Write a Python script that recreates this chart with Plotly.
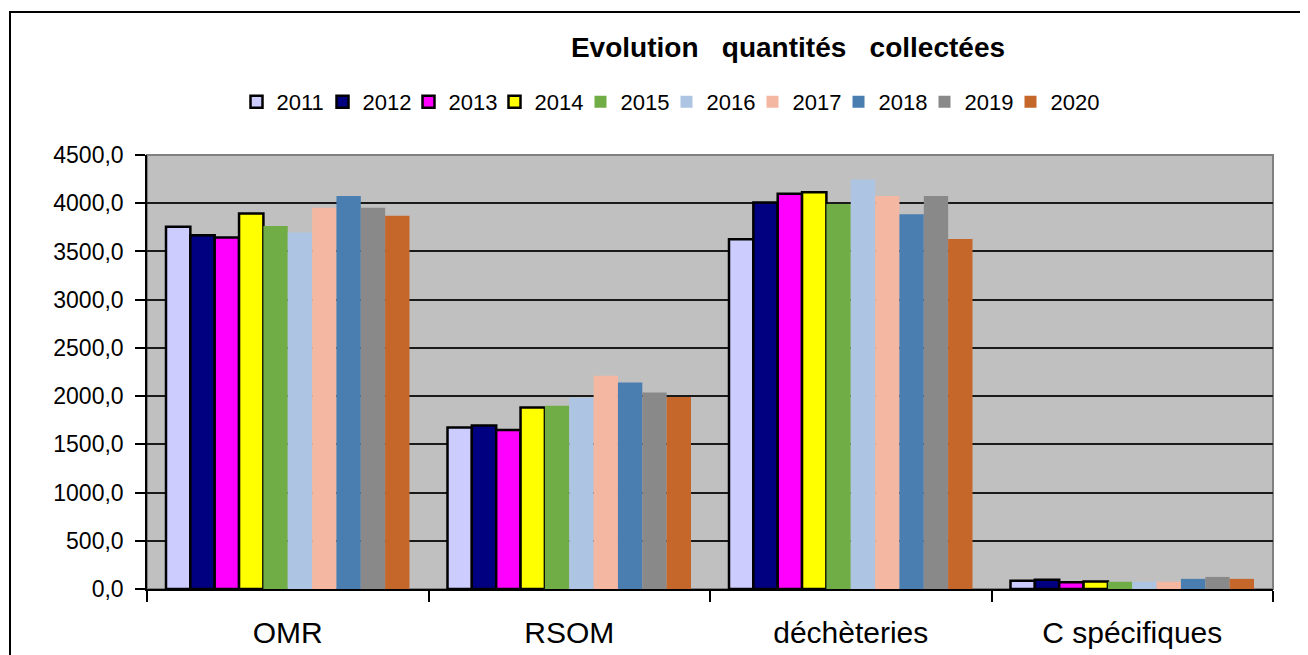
import plotly.graph_objects as go

categories = ["OMR", "RSOM", "déchèteries", "C spécifiques"]
years = ["2011", "2012", "2013", "2014", "2015", "2016", "2017", "2018", "2019", "2020"]

v2011 = [3755, 1675, 3627, 85]
v2012 = [3668, 1696, 4007, 95]
v2013 = [3645, 1648, 4097, 70]
v2014 = [3893, 1883, 4114, 78]
v2015 = [3765, 1900, 3993, 75]
v2016 = [3696, 1983, 4246, 75]
v2017 = [3952, 2211, 4076, 75]
v2018 = [4076, 2142, 3886, 105]
v2019 = [3952, 2038, 4076, 125]
v2020 = [3869, 1990, 3630, 105]

values = [v2011, v2012, v2013, v2014, v2015, v2016, v2017, v2018, v2019, v2020]
colors = ["#CCCCFF", "#000080", "#FF00FF", "#FFFF00", "#70AD47",
          "#ADC5E3", "#F4B7A2", "#4A7EB0", "#898989", "#C5662A"]

fig = go.Figure()
for i, (yr, vals, col) in enumerate(zip(years, values, colors)):
    outlined = i < 4
    last = i == len(years) - 1
    fig.add_trace(go.Bar(
        x=categories, y=vals, name=yr,
        marker=dict(color=col,
                    line=dict(color="black", width=2.5 if outlined else 0)),
        legendwidth=52 if last else None,
    ))

# target plot-area box in screen pixels; page body adds an 8px offset
OFF = 8
L, R, T, B = 147, 1273, 155, 589
W, H = 1308, 655
pw, ph = R - L, B - T

def px(x):
    return (x - L) / pw

def py(y):
    return (B - y) / ph

fig.update_layout(
    width=W, height=H,
    margin=dict(l=L - OFF, r=W + OFF - R, t=T - OFF, b=H + OFF - B),
    paper_bgcolor="white",
    plot_bgcolor="#C0C0C0",
    barmode="group",
    bargap=0.135,
    bargroupgap=0,
    font=dict(family="Arial, Liberation Sans", color="black"),
    title=dict(text="<b>Evolution\u00a0\u00a0\u00a0quantités\u00a0\u00a0\u00a0collectées</b>",
               x=(788 - OFF) / W, y=1 - (47 - OFF) / H, xanchor="center", yanchor="middle",
               xref="container", yref="container",
               font=dict(size=28, color="black")),
    legend=dict(orientation="h", x=px(672), y=py(102), xanchor="center", yanchor="middle",
                font=dict(size=22), bgcolor="rgba(0,0,0,0)",
                itemwidth=30, entrywidth=41, entrywidthmode="pixels",
                tracegroupgap=0, traceorder="normal"),
    separators=", ",
    showlegend=True,
)

fig.update_yaxes(
    range=[0, 4500], dtick=500, tick0=0, tickformat=".1f",
    showgrid=True, gridcolor="#1a1a1a", gridwidth=1.5,
    showline=True, linecolor="black", linewidth=1.5,
    ticks="outside", ticklen=10, tickcolor="black", tickwidth=1.5,
    tickfont=dict(size=23), ticklabelstandoff=7,
    zeroline=False,
)
fig.update_xaxes(
    showline=True, linecolor="black", linewidth=1.5,
    ticks="outside", tickson="boundaries", ticklen=11, tickcolor="black", tickwidth=1.5,
    tickfont=dict(size=30), ticklabelstandoff=16,
)

# plot-area border (top / right) and outer frame
fig.add_shape(type="rect", xref="paper", yref="paper", x0=0, y0=0, x1=1, y1=1,
              line=dict(color="#808080", width=2), layer="below")
fig.add_shape(type="rect", xref="paper", yref="paper",
              x0=px(10), y0=py(670), x1=px(1320), y1=py(12),
              line=dict(color="black", width=2))

fig.write_html("out.html")
